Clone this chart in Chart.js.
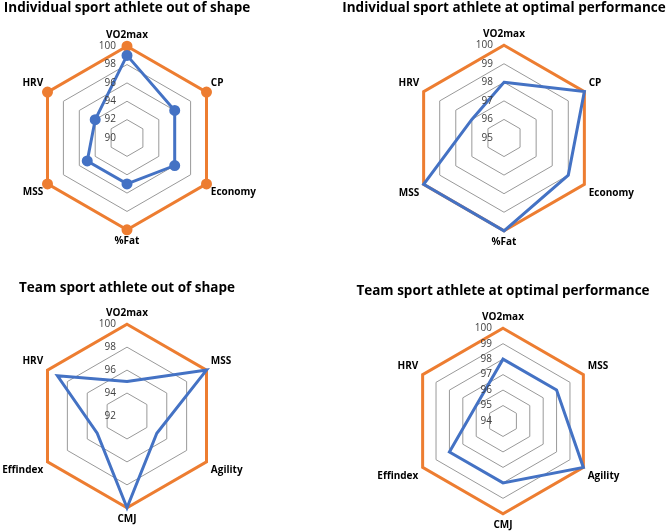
<!DOCTYPE html>
<html>
<head>
<meta charset="utf-8">
<script src="https://cdn.jsdelivr.net/npm/chart.js@4.4.1/dist/chart.umd.min.js"></script>
<style>
  body { margin: 0; background: #fff; overflow: hidden; }
  #wrap { position: relative; width: 669px; height: 531px; background: #fff; overflow: hidden; }
  canvas { position: absolute; }
</style>
</head>
<body>
<div id="wrap">
  <canvas id="indOut" width="334" height="265" style="left:-40px;top:0"></canvas>
  <canvas id="indOpt" width="334" height="265" style="left:337px;top:0"></canvas>
  <canvas id="teamOut" width="300" height="266" style="left:-23px;top:265px"></canvas>
  <canvas id="teamOpt" width="334" height="266" style="left:336px;top:265px"></canvas>
</div>
<script>
const indLabels = ['VO2max', 'CP', 'Economy', '%Fat', 'MSS', 'HRV'];
const teamLabels = ['VO2max', 'MSS', 'Agility', 'CMJ', 'Effindex', 'HRV'];

const indOutValues = [99, 96, 96, 95, 95, 94];
const indOptValues = [98, 100, 99, 100, 100, 97];
const teamOutValues = [95, 100, 95, 100, 95, 99];
const teamOptValues = [98, 98, 100, 98, 98, 96];
const optimalValues = [100, 100, 100, 100, 100, 100];

// scale ranges [min, max, step]
const indOutRange = [90, 100, 2];
const indOptRange = [95, 100, 1];
const teamOutRange = [92, 100, 2];
const teamOptRange = [94, 100, 1];

const BLUE = '#4472C4';
const ORANGE = '#ED7D31';
const FONT = '"Open Sans", sans-serif';

// tick labels sit left of the vertical axis, like in Excel
const sideTicks = {
    id: 'sideTicks',
    afterDatasetsDraw(chart) {
        const s = chart.scales.r;
        const ctx = chart.ctx;
        ctx.save();
        ctx.font = '10px ' + FONT;
        ctx.fillStyle = '#404040';
        ctx.textAlign = 'right';
        ctx.textBaseline = 'middle';
        s.ticks.forEach(t => {
            ctx.fillText(t.label, s.xCenter - 11, s.yCenter - s.getDistanceFromCenterForValue(t.value));
        });
        ctx.restore();
    }
};

function makeRadar(id, title, labels, values, range, markers, titlePad, pad) {
    new Chart(document.getElementById(id), {
        type: 'radar',
        data: {
            labels: labels,
            datasets: [
                {
                    data: values,
                    borderColor: BLUE,
                    backgroundColor: BLUE,
                    borderWidth: 3,
                    fill: false,
                    pointRadius: markers ? 4 : 0,
                },
                {
                    data: optimalValues,
                    borderColor: ORANGE,
                    backgroundColor: ORANGE,
                    borderWidth: 3,
                    fill: false,
                    pointRadius: markers ? 4 : 0,
                }
            ]
        },
        options: {
            responsive: false,
            animation: false,
            layout: {padding: pad},
            plugins: {
                legend: {display: false},
                tooltip: {enabled: false},
                title: {
                    display: true,
                    text: title,
                    color: '#000',
                    font: {family: FONT, size: 13.5, weight: 'bold'},
                    padding: titlePad,
                },
            },
            scales: {
                r: {
                    min: range[0],
                    max: range[1],
                    ticks: {stepSize: range[2], display: false},
                    grid: {color: '#999999', lineWidth: 1},
                    angleLines: {display: false},
                    pointLabels: {
                        color: '#000',
                        padding: 5,
                        font: {family: FONT, size: 10, weight: 'bold'},
                    },
                }
            }
        },
        plugins: [sideTicks]
    });
}

makeRadar('indOut', 'Individual sport athlete out of shape', indLabels, indOutValues, indOutRange, true,
    {top: 0, bottom: 13}, {top: 0, bottom: 18});
makeRadar('indOpt', 'Individual sport athlete at optimal performance', indLabels, indOptValues, indOptRange, false,
    {top: 0, bottom: 12}, {top: 0, bottom: 17});
makeRadar('teamOut', 'Team sport athlete out of shape', teamLabels, teamOutValues, teamOutRange, false,
    {top: 15, bottom: 11}, {top: 0, bottom: 6});
makeRadar('teamOpt', 'Team sport athlete at optimal performance', teamLabels, teamOptValues, teamOptRange, false,
    {top: 18, bottom: 12}, {top: 0, bottom: 0});
</script>
</body>
</html>
